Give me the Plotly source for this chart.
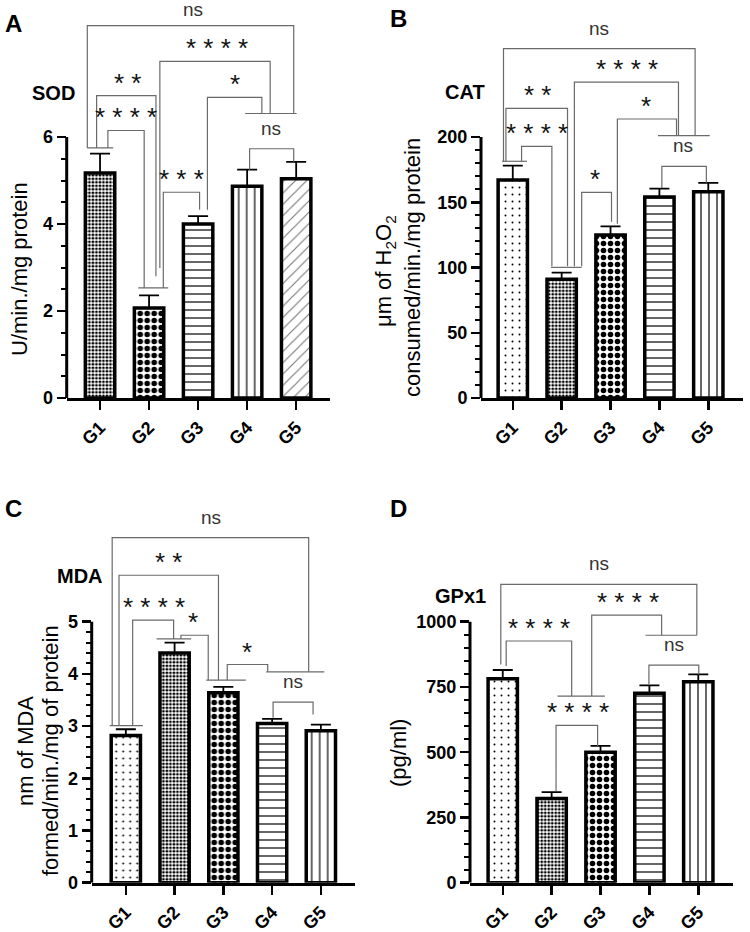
import numpy as np
import plotly.graph_objects as go

W, H = 750, 932

# ---------------- data ----------------
groups = ["G1", "G2", "G3", "G4", "G5"]

sod_mean = [5.17, 2.07, 4.00, 4.87, 5.04]
sod_sem = [0.45, 0.29, 0.18, 0.38, 0.39]

cat_mean = [167, 91, 125, 154, 158]
cat_sem = [11, 5, 6.5, 6.4, 6.8]

mda_mean = [2.82, 4.40, 3.64, 3.05, 2.91]
mda_sem = [0.12, 0.20, 0.11, 0.09, 0.12]

gpx_mean = [781, 323, 500, 726, 770]
gpx_sem = [34, 24, 24, 30, 28]

sod_ticks = [0, 2, 4, 6]
cat_ticks = [0, 50, 100, 150, 200]
mda_ticks = [0, 1, 2, 3, 4, 5]
gpx_ticks = [0, 250, 500, 750, 1000]

sod_fill = ["fine", "coarse", "hline", "vline", "diag"]
std_fill = ["dots", "fine", "coarse", "hline", "vline"]

# significance brackets: (label, x_left, x_right, y_bar, y_left_end, y_right_end, label_x)
sig_sod = [
    ("ns", -0.26, 3.95, 8.56, 5.75, 6.54, 1.90),
    ("****", 1.22, 3.47, 7.74, 2.99, 6.54, 2.38),
    ("**", -0.07, 1.14, 6.95, 5.75, 2.80, 0.56),
    ("****", 0.16, 0.90, 6.15, 5.75, 2.53, 0.53),
    ("*", 2.19, 3.30, 6.91, 4.33, 6.54, 2.76),
    ("***", 1.29, 2.03, 4.73, 2.53, 4.33, 1.67),
    ("ns", 3.05, 3.95, 5.73, 5.25, 5.43, 3.48),
]
base_sod = [(-0.26, 0.27, 5.75), (0.78, 1.39, 2.53), (2.96, 4.01, 6.54)]

sig_cat = [
    ("ns", -0.19, 3.73, 267.7, 181.4, 201, 1.76),
    ("****", 1.26, 3.39, 242, 100.9, 201, 2.34),
    ("**", -0.14, 1.12, 222, 181.4, 101, 0.50),
    ("****", 0.18, 0.80, 192.8, 181.4, 101, 0.50),
    ("*", 2.14, 3.35, 213.8, 133.6, 201, 2.73),
    ("*", 1.41, 2.02, 157.6, 101, 135, 1.68),
    ("ns", 3.05, 3.96, 177.5, 161, 165, 3.48),
]
base_cat = [(-0.22, 0.29, 181.4), (0.78, 1.41, 100.1), (2.97, 4.03, 201)]

sig_mda = [
    ("ns", -0.28, 3.75, 6.61, 3.01, 4.04, 1.75),
    ("**", -0.14, 1.90, 5.89, 3.01, 3.88, 0.87),
    ("****", 0.14, 0.98, 5.03, 3.01, 4.67, 0.57),
    ("*", 1.13, 1.69, 4.74, 4.67, 3.88, 1.38),
    ("*", 2.08, 2.91, 4.18, 3.88, 4.04, 2.48),
    ("ns", 3.02, 3.84, 3.46, 3.16, 3.22, 3.43),
]
base_mda = [(-0.33, 0.35, 3.01), (0.63, 1.34, 4.67), (1.65, 2.46, 3.88), (2.88, 4.07, 4.04)]

sig_gpx = [
    ("ns", -0.04, 3.97, 1143, 836, 948, 1.97),
    ("****", 0.07, 1.41, 926, 830, 715, 0.75),
    ("****", 1.82, 3.25, 1025, 715, 948, 2.56),
    ("****", 1.09, 1.94, 603, 351, 524, 1.53),
    ("ns", 2.99, 4.01, 834, 760, 798, 3.51),
]
base_gpx = [(1.12, 2.09, 715), (2.92, 3.97, 948)]

# ---------------- styles ----------------
PATTERNS = {
    "fine": dict(shape=".", size=3.5, solidity=0.5, fg="black"),
    "coarse": dict(shape=".", size=7, solidity=0.5, fg="black"),
    "hline": dict(shape="-", size=8, solidity=0.15, fg="black"),
    "vline": dict(shape="|", size=8, solidity=0.15, fg="black"),
    "diag": dict(shape="/", size=8, solidity=0.14, fg="#777777"),
    "dots": dict(shape=".", size=7, solidity=0.06, fg="black"),
}

FONT = "Arial, 'Liberation Sans', sans-serif"

PANELS = [
    dict(letter="A", name="SOD", mean=sod_mean, sem=sod_sem, ticks=sod_ticks, minor=0.5,
         fills=sod_fill, sig=sig_sod, base=base_sod,
         box=(66.7, 330, 2, 398, 137), xr=(-0.68, 4.69),
         letter_pos=(3, 23), name_pos=(30, 93),
         titles=[("U/min./mg protein", 19, 269)]),
    dict(letter="B", name="CAT", mean=cat_mean, sem=cat_sem, ticks=cat_ticks, minor=10,
         fills=std_fill, sig=sig_cat, base=base_cat,
         box=(481, 743, 2, 398, 137), xr=(-0.65, 4.71),
         letter_pos=(388, 18), name_pos=(443, 92),
         titles=[("μm of H<sub>2</sub>O<sub>2</sub>", 385, 271),
                 ("consumed/min./mg protein", 412, 268)]),
    dict(letter="C", name="MDA", mean=mda_mean, sem=mda_sem, ticks=mda_ticks, minor=0.2,
         fills=std_fill, sig=sig_mda, base=base_mda,
         box=(91.7, 355, 468, 882.7, 621.7), xr=(-0.70, 4.70),
         letter_pos=(3, 508), name_pos=(55, 576),
         titles=[("nm of MDA", 25, 751), ("formed/min./mg of protein", 50, 751)]),
    dict(letter="D", name="GPx1", mean=gpx_mean, sem=gpx_sem, ticks=gpx_ticks, minor=50,
         fills=std_fill, sig=sig_gpx, base=base_gpx,
         box=(470, 733, 468, 882.7, 621.7), xr=(-0.67, 4.71),
         letter_pos=(388, 508), name_pos=(433, 596),
         titles=[("(pg/ml)", 398, 753)]),
]

fig = go.Figure()
shapes, annotations = [], []
layout = {}

for i, p in enumerate(PANELS, start=1):
    s = "" if i == 1 else str(i)
    xl, xr_px, ytop, ybot, ytick_px = p["box"]
    top_tick = p["ticks"][-1]
    ymax = top_tick * (ybot - ytop) / (ybot - ytick_px)
    px_per_unit = (ybot - ytick_px) / top_tick
    xpos = list(range(len(groups)))

    pats = [PATTERNS[f] for f in p["fills"]]
    fig.add_trace(go.Bar(
        x=xpos, y=p["mean"], width=0.6,
        xaxis="x" + s, yaxis="y" + s, showlegend=False, hoverinfo="skip",
        marker=dict(
            color="white",
            line=dict(color="black", width=3.5),
            pattern=dict(
                shape=[q["shape"] for q in pats],
                size=[q["size"] for q in pats],
                solidity=[q["solidity"] for q in pats],
                fgcolor=[q["fg"] for q in pats],
                bgcolor="white",
                fillmode="replace",
            ),
        ),
        error_y=dict(type="data", symmetric=False, array=p["sem"],
                     arrayminus=[0] * len(groups), color="black",
                     thickness=1.8, width=10),
    ))

    step = p["minor"]
    minor_vals = [v for v in np.arange(0, top_tick + step / 2, step)
                  if all(abs(v - t) > step / 10 for t in p["ticks"])]

    layout["xaxis" + s] = dict(
        domain=[xl / W, xr_px / W], range=list(p["xr"]), anchor="y" + s,
        automargin=False,
        tickmode="array", tickvals=xpos, ticktext=groups, tickangle=-45,
        showline=True, linewidth=3, linecolor="black",
        ticks="outside", ticklen=9, tickwidth=2.5, tickcolor="black",
        tickfont=dict(family=FONT, size=18, color="black", weight="bold"),
        showgrid=False, zeroline=False, fixedrange=True,
    )
    layout["yaxis" + s] = dict(
        domain=[1 - ybot / H, 1 - ytop / H], range=[0, ymax], anchor="x" + s,
        automargin=False,
        tickmode="array", tickvals=p["ticks"],
        ticks="outside", ticklen=9, tickwidth=2.5, tickcolor="black",
        minor=dict(tickmode="array", tickvals=minor_vals, ticks="outside",
                   ticklen=5, tickwidth=2, tickcolor="black", showgrid=False),
        tickfont=dict(family=FONT, size=18, color="black", weight="bold"),
        showline=False, showgrid=False, zeroline=False, fixedrange=True,
    )
    # y axis line only up to top tick
    shapes.append(dict(type="line", xref=f"x{s} domain", yref="y" + s,
                       x0=0, x1=0, y0=0, y1=top_tick,
                       line=dict(color="black", width=3)))

    for (lab, a, b, yb, ya, yc, lx) in p["sig"]:
        shapes.append(dict(type="path", xref="x" + s, yref="y" + s,
                           path=f"M {a},{ya} L {a},{yb} L {b},{yb} L {b},{yc}",
                           line=dict(color="#6a6a6a", width=1.2)))
        star = lab != "ns"
        shift = -3 if star else 9
        # keep the label box inside the page
        line_px = ybot - yb * px_per_unit
        shift = min(shift, line_px - 21)
        annotations.append(dict(
            xref="x" + s, yref="y" + s, x=lx, y=yb,
            text=" ".join(lab) if star else lab,
            showarrow=False, xanchor="center", yanchor="bottom",
            yshift=shift, borderpad=0,
            font=dict(family=FONT, size=26 if star else 19,
                      color="#111111" if star else "#333333"),
        ))
    for (a, b, yv) in p["base"]:
        shapes.append(dict(type="line", xref="x" + s, yref="y" + s,
                           x0=a, x1=b, y0=yv, y1=yv,
                           line=dict(color="#6a6a6a", width=1.2)))

    lx_, ly_ = p["letter_pos"]
    annotations.append(dict(xref="paper", yref="paper", x=lx_ / W, y=1 - ly_ / H,
                            text=p["letter"], showarrow=False,
                            xanchor="left", yanchor="middle",
                            font=dict(family=FONT, size=24, color="black", weight="bold")))
    nx, ny = p["name_pos"]
    annotations.append(dict(xref="paper", yref="paper", x=nx / W, y=1 - ny / H,
                            text=p["name"], showarrow=False,
                            xanchor="left", yanchor="middle",
                            font=dict(family=FONT, size=20, color="black", weight="bold")))
    for (t, tx, ty) in p["titles"]:
        annotations.append(dict(xref="paper", yref="paper", x=tx / W, y=1 - ty / H,
                                text=t, showarrow=False, textangle=-90,
                                xanchor="center", yanchor="middle",
                                font=dict(family=FONT, size=22, color="black")))

fig.update_layout(
    template="none",
    width=W, height=H,
    margin=dict(l=0, r=0, t=0, b=0, pad=0, autoexpand=False),
    paper_bgcolor="white", plot_bgcolor="white",
    shapes=shapes, annotations=annotations,
    font=dict(family=FONT),
    **layout,
)

fig.write_html("out.html",
               config={"displayModeBar": False, "staticPlot": True},
               post_script="document.body.style.margin='0px';"
                           "document.body.style.overflow='hidden';")
